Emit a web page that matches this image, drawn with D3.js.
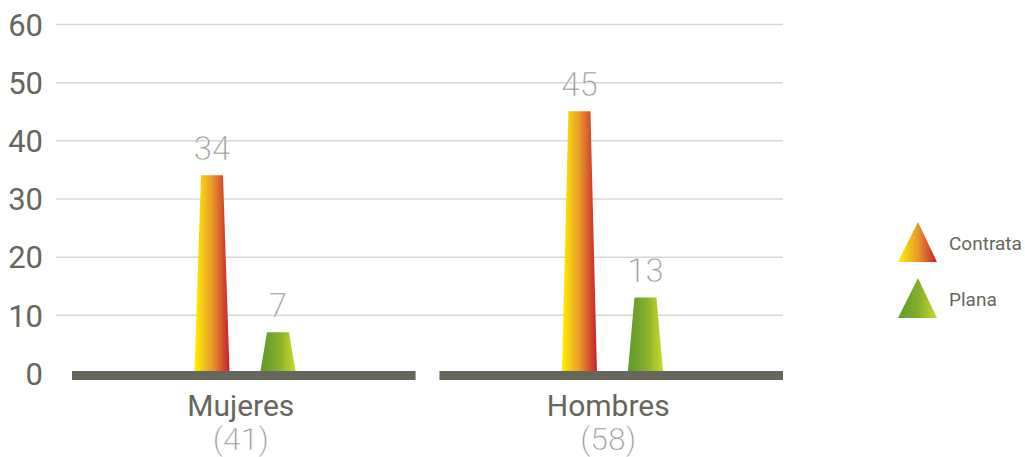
<!DOCTYPE html>
<html>
<head>
<meta charset="utf-8">
<script src="https://cdn.jsdelivr.net/npm/d3@7"></script>
<style>
  body { margin: 0; background: #fff; }
  svg text { font-family: Roboto, "Liberation Sans", sans-serif; }
  svg text.light { font-family: "Roboto Light", Roboto, sans-serif; font-weight: 300; stroke: #fff; stroke-width: 0.5; }
</style>
</head>
<body>
<div class="chart"></div>
<script>
// data
const groups = ['Mujeres', 'Hombres'];
const groupTotals = [41, 58];
const series = ['Contrata', 'Plana'];
const contrata = [34, 45];
const plana = [7, 13];
const yTicks = [0, 10, 20, 30, 40, 50, 60];

const width = 1025, height = 457;
const grey = '#66665c';

const svg = d3.select('.chart')
    .append('svg')
    .attr('width', width)
    .attr('height', height);

// gradients
const defs = svg.append('defs');
function grad(id, stops) {
    const g = defs.append('linearGradient')
        .attr('id', id)
        .attr('x1', '0%').attr('x2', '100%')
        .attr('y1', '0%').attr('y2', '0%');
    stops.forEach(s => g.append('stop').attr('offset', s[0]).attr('stop-color', s[1]));
}
grad('g-contrata', [['0%', '#fff200'], ['50%', '#e89a2c'], ['100%', '#c8202c']]);
grad('g-plana', [['0%', '#5d9a2c'], ['50%', '#82ad2c'], ['100%', '#c9d92c']]);
const fills = {Contrata: 'url(#g-contrata)', Plana: 'url(#g-plana)'};

const y = d3.scaleLinear().domain([0, 60]).range([373, 24]);

const x0 = d3.scaleBand()
    .domain(groups)
    .range([72, 783])
    .paddingInner(0.065);

const x1 = d3.scaleBand()
    .domain(series)
    .range([122.5, 223.5])
    .paddingInner(0.47);

// grid + y labels
const yAxis = d3.axisLeft(y)
    .tickValues(yTicks)
    .tickSize(727)
    .tickPadding(13)
    .tickFormat(d3.format('d'));

const ga = svg.append('g')
    .attr('transform', 'translate(783,0)')
    .call(yAxis);
ga.select('.domain').remove();
ga.selectAll('.tick line')
    .attr('stroke', '#d8d8cf')
    .attr('stroke-width', 1.5)
    .attr('display', d => d === 0 ? 'none' : null);
ga.selectAll('.tick text')
    .attr('fill', grey)
    .attr('font-size', 31)
    .attr('dy', '0.36em');

// baselines
svg.selectAll('rect.base')
    .data(groups)
    .enter()
    .append('rect')
    .attr('class', 'base')
    .attr('x', d => x0(d))
    .attr('y', y(0) - 2)
    .attr('width', x0.bandwidth())
    .attr('height', 9)
    .attr('fill', grey);

// bars as trapezoids
const rows = [];
groups.forEach((g, i) => {
    rows.push({group: g, s: 'Contrata', v: contrata[i]});
    rows.push({group: g, s: 'Plana', v: plana[i]});
});

const inset = 6.5;
const bar = svg.selectAll('g.bar')
    .data(rows)
    .enter()
    .append('g')
    .attr('class', 'bar');

bar.append('path')
    .attr('d', d => {
        const xl = x0(d.group) + x1(d.s);
        const xr = xl + x1.bandwidth();
        const yb = y(0) - 2, yt = y(d.v);
        return 'M' + xl + ',' + yb + 'L' + (xl + inset) + ',' + yt +
            'L' + (xr - inset) + ',' + yt + 'L' + xr + ',' + yb + 'Z';
    })
    .attr('fill', d => fills[d.s]);

bar.append('text')
    .attr('class', 'light')
    .attr('x', d => x0(d.group) + x1(d.s) + x1.bandwidth() / 2)
    .attr('y', d => y(d.v) - 15)
    .attr('text-anchor', 'middle')
    .attr('font-size', 33)
    .attr('fill', '#8f8f8b')
    .text(d => d.v);

// category labels
const cat = svg.selectAll('g.cat')
    .data(groups)
    .enter()
    .append('g')
    .attr('class', 'cat');

cat.append('text')
    .attr('x', d => x0(d) + x0.bandwidth() / 2 - 3)
    .attr('y', 416)
    .attr('text-anchor', 'middle')
    .attr('font-size', 30)
    .attr('fill', grey)
    .text(d => d);

cat.append('text')
    .attr('class', 'light')
    .attr('x', d => x0(d) + x0.bandwidth() / 2 - 3)
    .attr('y', 450)
    .attr('text-anchor', 'middle')
    .attr('font-size', 32)
    .attr('fill', '#8f8f8b')
    .text((d, i) => '(' + groupTotals[i] + ')');

// legend
const legend = svg.selectAll('g.legend')
    .data(series)
    .enter()
    .append('g')
    .attr('class', 'legend')
    .attr('transform', (d, i) => 'translate(898,' + (222 + i * 56) + ')');

legend.append('path')
    .attr('d', 'M20,0L39,40L0,40Z')
    .attr('fill', d => fills[d]);

legend.append('text')
    .attr('x', 51)
    .attr('y', 21)
    .attr('dy', '0.35em')
    .attr('font-size', 19)
    .attr('fill', grey)
    .text(d => d);
</script>
</body>
</html>
